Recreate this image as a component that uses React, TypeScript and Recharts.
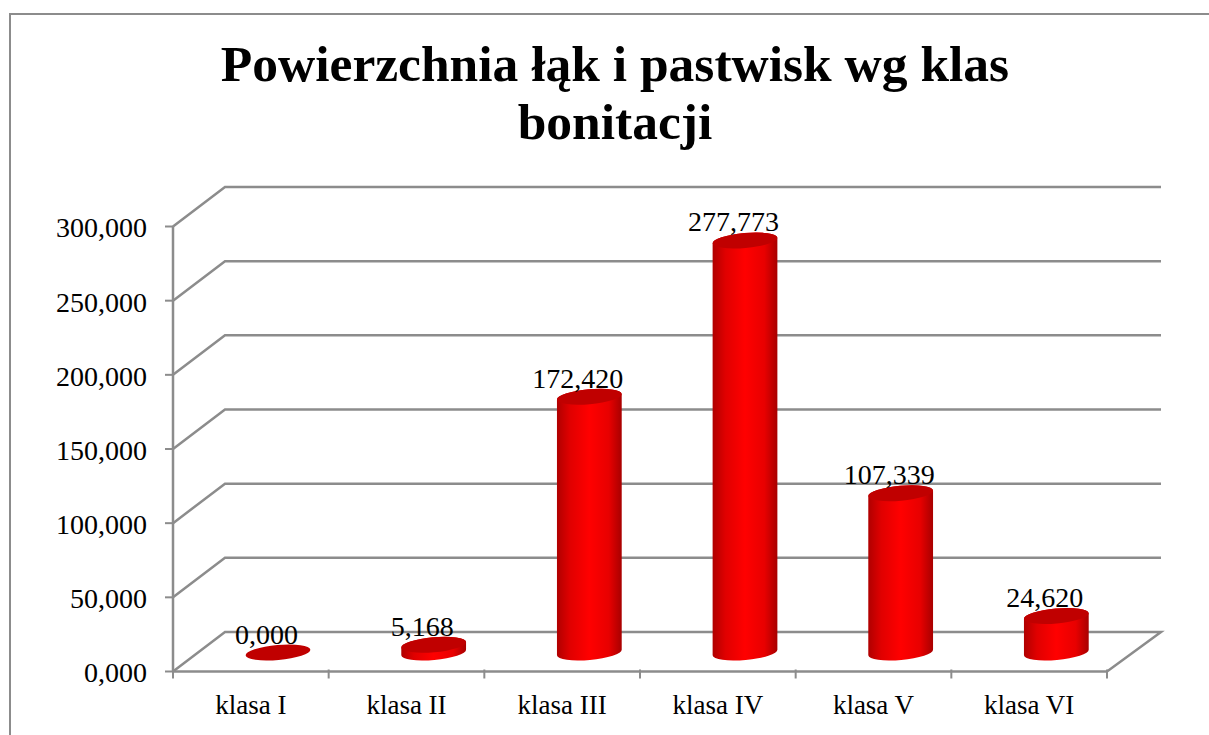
import React from 'react';
import { BarChart, Bar, XAxis, YAxis, CartesianGrid, LabelList } from 'recharts';

const categories = ['klasa I', 'klasa II', 'klasa III', 'klasa IV', 'klasa V', 'klasa VI'];
const values = [0, 5.168, 172.42, 277.773, 107.339, 24.62];
const yTicks = [0, 50, 100, 150, 200, 250, 300];
const titleLines = ['Powierzchnia łąk i pastwisk wg klas', 'bonitacji'];

const chartData = categories.map((name, i) => ({ name, value: values[i] }));

const FONT = '"Liberation Serif", serif';
const AXIS_GRAY = '#8c8c8c';
const PLOT_LEFT = 173;
const PLOT_RIGHT = 1107;
const CATEGORY_W = (PLOT_RIGHT - PLOT_LEFT) / categories.length;
const DEPTH_X = 52;
const DEPTH_Y = 39.5;

const fmt = (v: number) => v.toFixed(3).replace('.', ',');

// gridlines run along the floor/side wall and then along the back wall
const gridLine = (props: any) => {
  const { x1, x2, y1 } = props;
  const backY = y1 - DEPTH_Y;
  const isFloor = y1 > 660;
  const d = `M${x1},${y1} L${x1 + DEPTH_X},${backY} L${x2 + 54},${backY}` +
    (isFloor ? ` L${x2},${y1}` : '');
  return <path key={props.key} d={d} fill="none" stroke={AXIS_GRAY} strokeWidth={2.5} />;
};

const CategoryTick = (props: any) => {
  const { x, y, payload, index } = props;
  const left = x - CATEGORY_W / 2;
  const top = y - 8;
  return (
    <g>
      <line x1={left} x2={left} y1={top} y2={top + 9} stroke={AXIS_GRAY} strokeWidth={2} />
      {index === categories.length - 1 && (
        <line x1={left + CATEGORY_W} x2={left + CATEGORY_W} y1={top} y2={top + 9} stroke={AXIS_GRAY} strokeWidth={2} />
      )}
      <text x={x} y={top + 44.5} textAnchor="middle" fontSize={27} fontFamily={FONT} fill="#000">
        {payload.value}
      </text>
    </g>
  );
};

// cylinder: tilted ellipses on the floor, shifted into the depth of the chart
const Cylinder = (props: any) => {
  const { x, y, width, height, index } = props;
  const rx = width / 2;
  const ry = 7.5;
  const dx = 27.5;
  const dy = -19;
  const tilt = -5;
  const cx = x + rx + dx;
  const top = y + dy;
  const bottom = y + height + dy;
  const ex = rx * Math.cos((tilt * Math.PI) / 180);
  const ey = rx * Math.sin((tilt * Math.PI) / 180);
  const gid = `cyl-${index}`;
  const body =
    `M${cx - ex},${top - ey} L${cx - ex},${bottom - ey} ` +
    `A${rx},${ry} ${tilt} 0 0 ${cx + ex},${bottom + ey} ` +
    `L${cx + ex},${top + ey} ` +
    `A${rx},${ry} ${tilt} 0 0 ${cx - ex},${top - ey} Z`;
  return (
    <g>
      <defs>
        <linearGradient id={gid} x1="0" x2="1" y1="0" y2="0">
          <stop offset="0" stopColor="#b00000" />
          <stop offset="0.2" stopColor="#e00000" />
          <stop offset="0.5" stopColor="#ff0000" />
          <stop offset="0.8" stopColor="#e80000" />
          <stop offset="1" stopColor="#a80000" />
        </linearGradient>
      </defs>
      {height > 0 && <path d={body} fill={`url(#${gid})`} />}
      <ellipse cx={cx} cy={top} rx={rx} ry={ry} fill="#c00000" transform={`rotate(${tilt} ${cx} ${top})`} />
    </g>
  );
};

const ValueLabel = (props: any) => {
  const { x, y, width, value } = props;
  return (
    <text x={x + width / 2 + 16} y={y - 28} textAnchor="middle" fontSize={28} fontFamily={FONT} fill="#000">
      {fmt(value)}
    </text>
  );
};

export default function App() {
  return (
    <div style={{ position: 'absolute', left: 0, top: 0, width: 1209, height: 735, overflow: 'hidden', background: '#fff' }}>
      <div style={{ position: 'absolute', left: 9, top: 13, width: 1300, height: 800, border: `2px solid ${AXIS_GRAY}` }} />
      <div
        style={{
          position: 'absolute',
          left: 115,
          top: 35,
          width: 1000,
          textAlign: 'center',
          fontFamily: FONT,
          fontWeight: 700,
          fontSize: 51.5,
          lineHeight: '58px',
          color: '#000',
        }}
      >
        {titleLines.map(line => (
          <div key={line}>{line}</div>
        ))}
      </div>
      <BarChart
        width={1209}
        height={735}
        data={chartData}
        margin={{ top: 226.5, right: 102, bottom: 0, left: 0 }}
        style={{ position: 'absolute', left: 0, top: 0 }}
      >
        <CartesianGrid vertical={false} horizontal={gridLine} />
        <XAxis
          dataKey="name"
          height={63.5}
          interval={0}
          axisLine={{ stroke: AXIS_GRAY, strokeWidth: 2.5 }}
          tickLine={false}
          tick={<CategoryTick />}
          tickMargin={0}
        />
        <YAxis
          width={173}
          domain={[0, 300]}
          ticks={yTicks}
          tickFormatter={fmt}
          axisLine={{ stroke: AXIS_GRAY, strokeWidth: 2.5 }}
          tickLine={{ stroke: AXIS_GRAY, strokeWidth: 2 }}
          tickSize={8}
          tickMargin={18}
          tick={{ fontSize: 28, fontFamily: FONT, fill: '#000', dy: 1 }}
        />
        <Bar dataKey="value" barSize={65} shape={<Cylinder />} isAnimationActive={false}>
          <LabelList dataKey="value" content={<ValueLabel />} />
        </Bar>
      </BarChart>
    </div>
  );
}
